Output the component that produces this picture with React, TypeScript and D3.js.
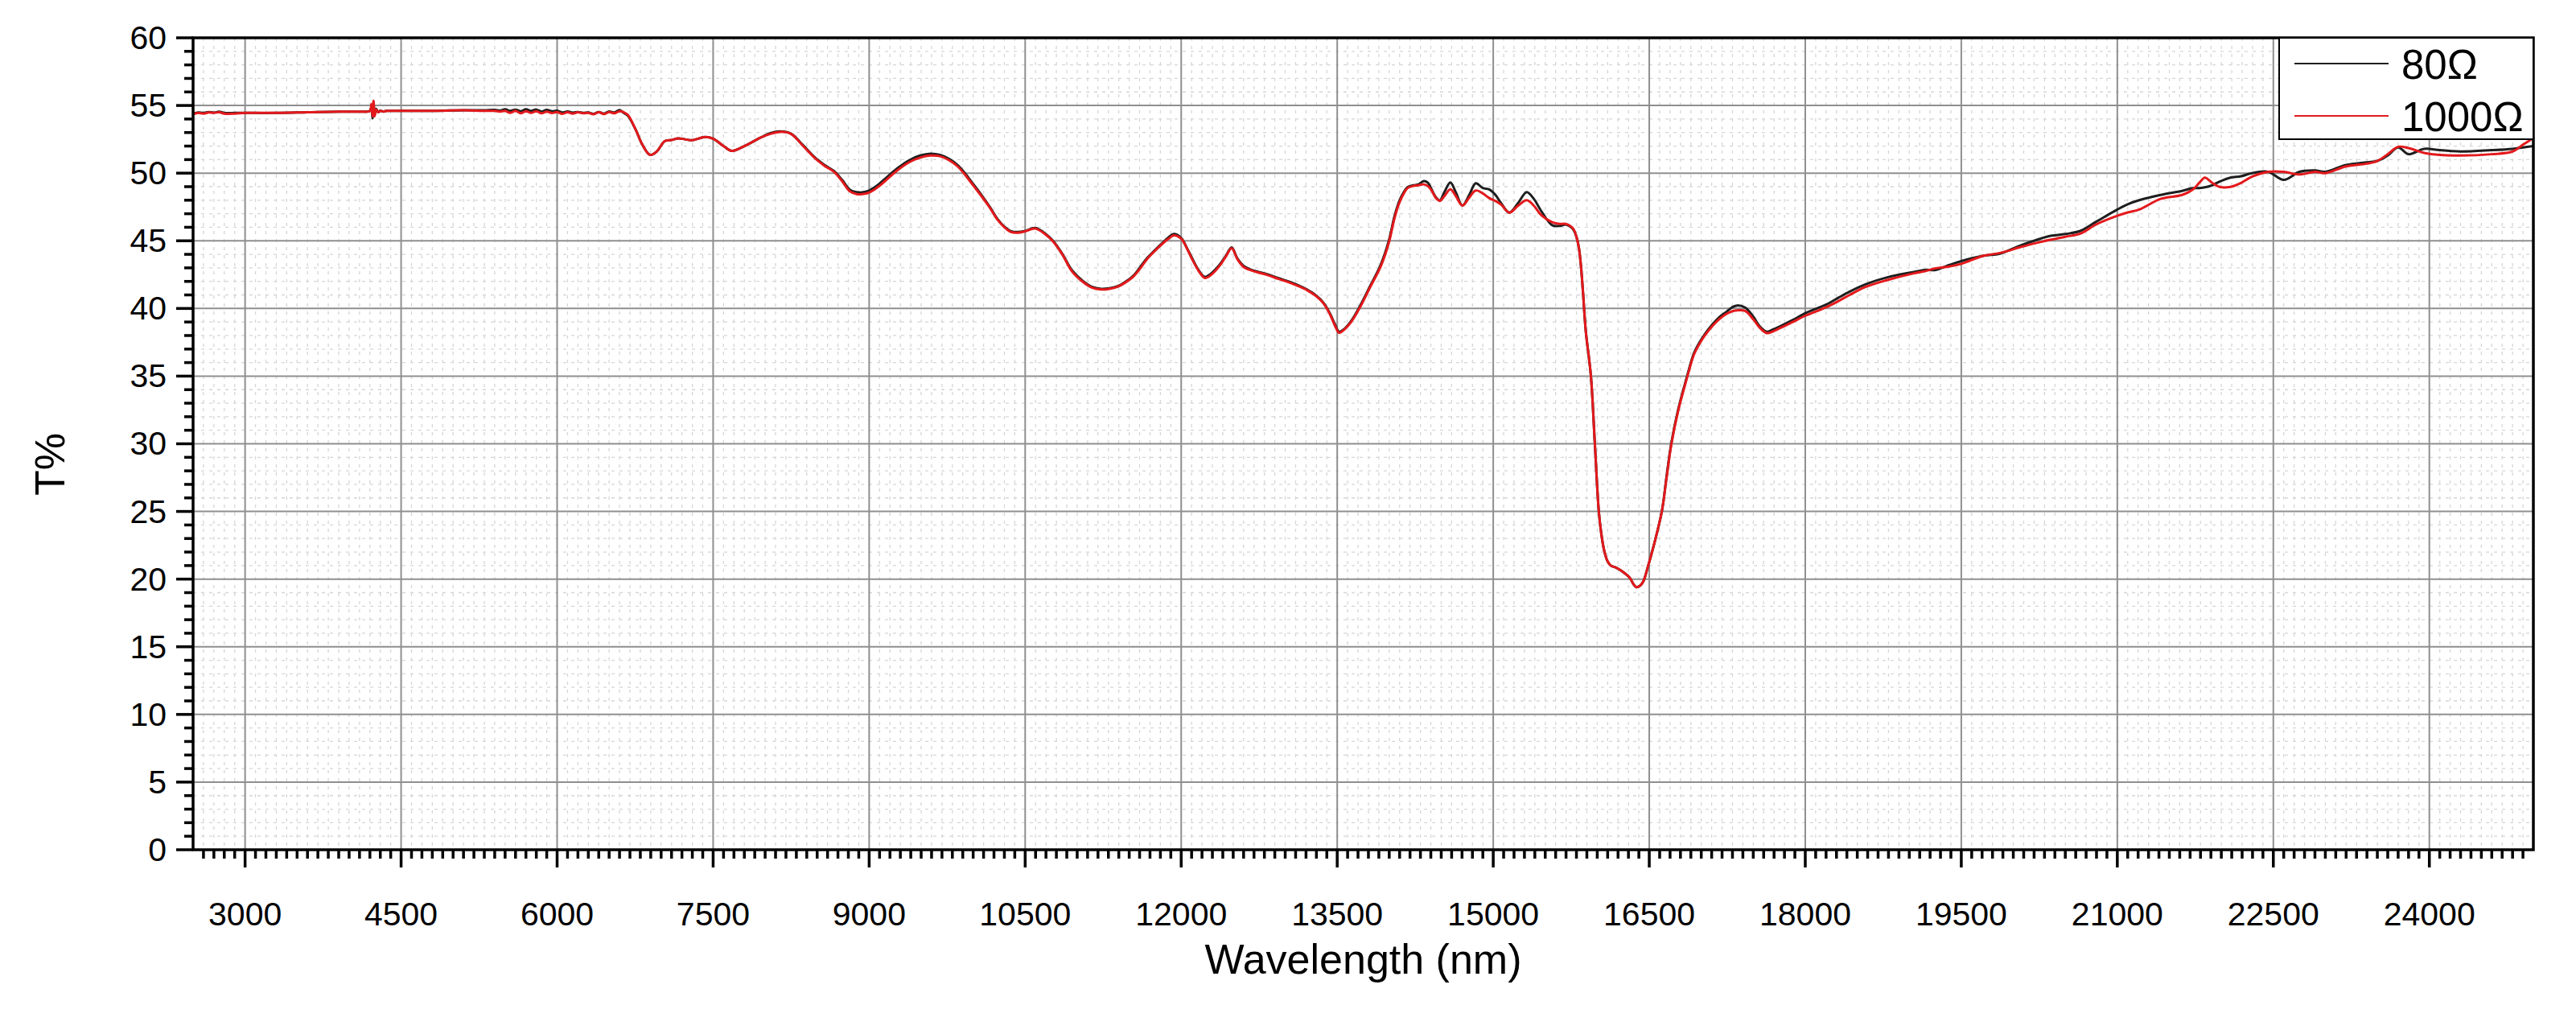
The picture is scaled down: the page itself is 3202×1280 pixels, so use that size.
import React, { useEffect } from "react";
import * as d3 from "d3";

// Wavelength (nm) sample positions shared by both series
const wavelengths = [
  2500, 2550, 2600, 2650, 2700, 2750, 2800, 2900, 3000, 3300,
  3600, 3900, 4100, 4200, 4215, 4225, 4235, 4245, 4260, 4280,
  4300, 4330, 4360, 4500, 4800, 5100, 5300, 5400, 5450, 5500,
  5550, 5600, 5650, 5700, 5750, 5800, 5850, 5900, 5950, 6000,
  6050, 6100, 6150, 6200, 6250, 6300, 6350, 6400, 6450, 6500,
  6550, 6600, 6640, 6680, 6750, 6820, 6894, 6958, 7036, 7100,
  7165, 7230, 7294, 7423, 7500, 7600, 7680, 7760, 7835, 7950,
  8050, 8145, 8248, 8360, 8480, 8570, 8661, 8740, 8816, 8880,
  8932, 9004, 9080, 9151, 9270, 9383, 9490, 9590, 9680, 9770,
  9850, 9925, 10000, 10080, 10160, 10235, 10300, 10364, 10430, 10493,
  10596, 10699, 10768, 10860, 10949, 11052, 11140, 11233, 11310, 11388,
  11460, 11543, 11610, 11672, 11740, 11801, 11870, 11930, 12000, 12060,
  12111, 12170, 12227, 12290, 12369, 12430, 12485, 12540, 12602, 12660,
  12731, 12837, 12937, 13030, 13118, 13210, 13299, 13370, 13428, 13480,
  13518, 13570, 13634, 13720, 13815, 13918, 13996, 14050, 14099, 14140,
  14177, 14230, 14280, 14332, 14370, 14409, 14450, 14487, 14530, 14588,
  14641, 14704, 14770, 14832, 14900, 14961, 15020, 15077, 15155, 15240,
  15322, 15390, 15464, 15567, 15640, 15696, 15740, 15773, 15800, 15825,
  15845, 15863, 15890, 15938, 15977, 16015, 16040, 16067, 16100, 16131,
  16180, 16234, 16312, 16350, 16376, 16410, 16441, 16490, 16544, 16621,
  16665, 16711, 16780, 16853, 16930, 16984, 17034, 17113, 17180, 17243,
  17300, 17345, 17422, 17500, 17560, 17628, 17690, 17757, 17880, 18002,
  18110, 18221, 18320, 18427, 18583, 18789, 19046, 19150, 19253, 19380,
  19500, 19716, 19871, 20077, 20200, 20335, 20500, 20644, 20799, 21000,
  21100, 21211, 21417, 21623, 21726, 21790, 21842, 21910, 21984, 22087,
  22190, 22293, 22450, 22600, 22750, 22900, 23000, 23200, 23400, 23500,
  23600, 23700, 23800, 23950, 24100, 24300, 24600, 24800, 24900, 25000,
];

// T% for the 80 Ω sample
const t80 = [
  54.4, 54.48, 54.45, 54.52, 54.47, 54.55, 54.45, 54.45, 54.45, 54.45,
  54.5, 54.55, 54.55, 54.6, 54.9, 54.05, 55.25, 54.3, 54.75, 54.5,
  54.62, 54.55, 54.6, 54.6, 54.6, 54.65, 54.65, 54.68, 54.62, 54.72,
  54.6, 54.7, 54.58, 54.72, 54.6, 54.7, 54.55, 54.68, 54.57, 54.62,
  54.48, 54.56, 54.47, 54.52, 54.46, 54.48, 54.38, 54.52, 54.4, 54.56,
  54.48, 54.66, 54.45, 54.25, 53.3, 52.1, 51.35, 51.6, 52.37, 52.45,
  52.57, 52.5, 52.43, 52.67, 52.55, 52.0, 51.64, 51.85, 52.13, 52.6,
  52.95, 53.08, 52.92, 52.1, 51.15, 50.6, 50.16, 49.5, 48.77, 48.6,
  48.58, 48.73, 49.1, 49.57, 50.35, 50.95, 51.3, 51.44, 51.35, 51.05,
  50.6, 49.96, 49.2, 48.38, 47.5, 46.6, 46.05, 45.71, 45.65, 45.71,
  45.95, 45.5, 45.0, 44.0, 42.83, 42.04, 41.6, 41.45, 41.5, 41.64,
  41.95, 42.44, 43.1, 43.72, 44.25, 44.71, 45.2, 45.5, 45.2, 44.4,
  43.62, 42.8, 42.34, 42.6, 43.23, 43.9, 44.51, 43.7, 43.13, 42.9,
  42.73, 42.5, 42.24, 42.0, 41.74, 41.4, 40.95, 40.4, 39.66, 38.8,
  38.28, 38.5, 39.07, 40.2, 41.64, 43.23, 45.0, 46.8, 47.98, 48.6,
  48.97, 49.1, 49.17, 49.41, 49.3, 48.77, 48.2, 47.98, 48.6, 49.31,
  48.57, 47.6, 48.4, 49.25, 48.9, 48.8, 48.4, 47.77, 47.08, 47.8,
  48.6, 48.1, 47.17, 46.15, 46.1, 46.2, 46.05, 45.8, 45.3, 44.4,
  43.0, 41.2, 38.3, 35.1, 30.0, 25.0, 23.3, 22.1, 21.3, 21.0,
  20.85, 20.6, 20.1, 19.6, 19.4, 19.5, 19.8, 21.0, 22.5, 25.0,
  27.5, 30.0, 32.6, 34.7, 36.7, 37.5, 38.1, 38.87, 39.4, 39.76,
  40.1, 40.22, 40.06, 39.4, 38.7, 38.28, 38.45, 38.68, 39.15, 39.66,
  40.0, 40.36, 40.8, 41.25, 41.8, 42.3, 42.7, 42.85, 42.85, 43.2,
  43.5, 43.9, 44.05, 44.68, 45.0, 45.33, 45.5, 45.73, 46.42, 47.31,
  47.7, 48.0, 48.39, 48.69, 48.89, 48.9, 48.95, 49.1, 49.38, 49.67,
  49.77, 50.0, 50.1, 49.5, 50.1, 50.2, 50.1, 50.6, 50.8, 50.9,
  51.3, 51.9, 51.4, 51.8, 51.7, 51.6, 51.7, 51.8, 51.9, 52.0,
];

// T% for the 1000 Ω sample
const t1000 = [
  54.35, 54.45, 54.4, 54.48, 54.45, 54.5, 54.4, 54.4, 54.45, 54.45,
  54.5, 54.55, 54.55, 54.6, 55.1, 54.2, 55.35, 54.2, 54.7, 54.5,
  54.6, 54.55, 54.6, 54.6, 54.6, 54.65, 54.6, 54.6, 54.55, 54.6,
  54.45, 54.6, 54.42, 54.58, 54.45, 54.58, 54.42, 54.55, 54.44, 54.52,
  54.38, 54.5, 54.4, 54.5, 54.42, 54.45, 54.35, 54.5, 54.36, 54.52,
  54.42, 54.58, 54.5, 54.3, 53.3, 52.1, 51.35, 51.6, 52.37, 52.45,
  52.57, 52.5, 52.43, 52.67, 52.55, 52.0, 51.64, 51.85, 52.13, 52.6,
  52.9, 53.05, 52.9, 52.05, 51.1, 50.55, 50.1, 49.4, 48.65, 48.45,
  48.45, 48.58, 48.95, 49.4, 50.2, 50.8, 51.15, 51.3, 51.25, 50.95,
  50.5, 49.85, 49.1, 48.3, 47.45, 46.55, 46.0, 45.65, 45.6, 45.68,
  45.9, 45.45, 44.95, 43.95, 42.75, 41.98, 41.55, 41.4, 41.45, 41.6,
  41.9, 42.38, 43.0, 43.65, 44.2, 44.65, 45.1, 45.4, 45.15, 44.35,
  43.55, 42.75, 42.25, 42.5, 43.15, 43.85, 44.45, 43.65, 43.05, 42.85,
  42.68, 42.45, 42.18, 41.95, 41.68, 41.35, 40.9, 40.35, 39.6, 38.7,
  38.2, 38.45, 39.0, 40.1, 41.55, 43.1, 44.85, 46.65, 47.85, 48.5,
  48.9, 49.05, 49.1, 49.17, 49.05, 48.7, 48.15, 47.95, 48.3, 48.8,
  48.3, 47.6, 48.2, 48.72, 48.5, 48.16, 47.95, 47.67, 47.08, 47.6,
  48.0, 47.6, 46.88, 46.38, 46.25, 46.25, 46.1, 45.85, 45.3, 44.4,
  43.0, 41.2, 38.3, 35.1, 30.0, 25.0, 23.3, 22.1, 21.3, 21.0,
  20.85, 20.6, 20.1, 19.6, 19.4, 19.5, 19.8, 21.0, 22.5, 25.0,
  27.4, 29.9, 32.5, 34.6, 36.6, 37.4, 38.0, 38.75, 39.25, 39.6,
  39.8, 39.86, 39.82, 39.2, 38.6, 38.18, 38.3, 38.55, 39.0, 39.47,
  39.8, 40.16, 40.55, 41.0, 41.6, 42.1, 42.6, 42.75, 42.97, 43.1,
  43.3, 43.9, 44.1, 44.55, 44.8, 45.04, 45.3, 45.53, 46.22, 46.85,
  47.1, 47.31, 48.1, 48.39, 48.79, 49.3, 49.67, 49.3, 48.98, 48.98,
  49.28, 49.73, 50.1, 50.1, 49.9, 50.1, 50.0, 50.5, 50.7, 50.9,
  51.4, 51.95, 51.85, 51.5, 51.35, 51.3, 51.4, 51.6, 52.1, 52.6,
];

const xTicks = [3000, 4500, 6000, 7500, 9000, 10500, 12000, 13500, 15000, 16500, 18000, 19500, 21000, 22500, 24000];
const yTicks = [0, 5, 10, 15, 20, 25, 30, 35, 40, 45, 50, 55, 60];
const seriesNames = ["80Ω", "1000Ω"];
const seriesColors = ["#1e1e1e", "#e3191c"];
const xTitle = "Wavelength (nm)";
const yTitle = "T%";

const W = 3202;
const H = 1280;
const PL = 240;
const PR = 3149;
const PT = 47;
const PB = 1056;
const FONT = "Arial, 'Liberation Sans', Helvetica, sans-serif";

export default function App() {
  useEffect(() => {
    document.body.style.margin = "0";
    document.body.style.overflow = "hidden";
  }, []);

  const x = d3.scaleLinear().domain([2500, 25000]).range([PL, PR]);
  const y = d3.scaleLinear().domain([0, 60]).range([PB, PT]);

  const minorX = d3.range(2600, 25000, 100).filter((v) => v % 1500 !== 0);
  const minorY = d3.range(1, 60, 1).filter((v) => v % 5 !== 0);

  const mk = (vals: number[]) =>
    d3
      .line<number>()
      .x((_, i) => x(wavelengths[i]))
      .y((d) => y(d))
      .curve(d3.curveCatmullRom.alpha(0.5))(vals) || "";

  const series = [t80, t1000];

  const legX = 2833;
  const legY = 47;
  const legW = PR - legX;
  const legH = 126;

  return (
    <svg
      width={W}
      height={H}
      viewBox={`0 0 ${W} ${H}`}
      style={{ position: "absolute", left: 0, top: 0, background: "#fff" }}
      fontFamily={FONT}
    >
      <rect x={0} y={0} width={W} height={H} fill="#fff" />
      <defs>
        <clipPath id="plotclip">
          <rect x={PL} y={PT} width={PR - PL} height={PB - PT} />
        </clipPath>
      </defs>
      {/* minor grid */}
      <g stroke="#d6d6d6" strokeWidth={1.3} strokeDasharray="4,6">
        {minorX.map((v) => (
          <line key={"mx" + v} x1={x(v)} x2={x(v)} y1={PT} y2={PB} />
        ))}
        {minorY.map((v) => (
          <line key={"my" + v} x1={PL} x2={PR} y1={y(v)} y2={y(v)} />
        ))}
      </g>
      {/* major grid */}
      <g stroke="#8f8f8f" strokeWidth={2}>
        {xTicks.map((v) => (
          <line key={"gx" + v} x1={x(v)} x2={x(v)} y1={PT} y2={PB} />
        ))}
        {yTicks.map((v) => (
          <line key={"gy" + v} x1={PL} x2={PR} y1={y(v)} y2={y(v)} />
        ))}
      </g>
      {/* curves */}
      <g clipPath="url(#plotclip)" fill="none" strokeWidth={3} strokeLinejoin="round">
        {series.map((s, i) => (
          <path key={"s" + i} d={mk(s)} stroke={seriesColors[i]} />
        ))}
      </g>
      {/* frame */}
      <rect x={PL} y={PT} width={PR - PL} height={PB - PT} fill="none" stroke="#000" strokeWidth={3.5} />
      {/* ticks */}
      <g stroke="#000" strokeWidth={3.5}>
        {yTicks.map((v) => (
          <line key={"yt" + v} x1={PL - 21} x2={PL} y1={y(v)} y2={y(v)} />
        ))}
        {minorY.map((v) => (
          <line key={"ymt" + v} x1={PL - 11} x2={PL} y1={y(v)} y2={y(v)} />
        ))}
        {xTicks.map((v) => (
          <line key={"xt" + v} x1={x(v)} x2={x(v)} y1={PB} y2={PB + 22} />
        ))}
        {minorX.map((v) => (
          <line key={"xmt" + v} x1={x(v)} x2={x(v)} y1={PB} y2={PB + 11} />
        ))}
      </g>
      {/* tick labels */}
      <g fontSize={41} fill="#000">
        {yTicks.map((v) => (
          <text key={"yl" + v} x={207} y={y(v)} dy="0.34em" textAnchor="end">
            {v}
          </text>
        ))}
        {xTicks.map((v) => (
          <text key={"xl" + v} x={x(v)} y={1150} textAnchor="middle">
            {v}
          </text>
        ))}
      </g>
      {/* axis titles */}
      <text x={(PL + PR) / 2} y={1210} fontSize={52} textAnchor="middle" fill="#000">
        {xTitle}
      </text>
      <text transform={`translate(80, 577) rotate(-90)`} fontSize={52} textAnchor="middle" fill="#000">
        {yTitle}
      </text>
      {/* legend */}
      <rect x={legX} y={legY} width={legW} height={legH} fill="#fff" stroke="#000" strokeWidth={2} />
      {seriesNames.map((n, i) => (
        <g key={"lg" + i}>
          <line
            x1={2852}
            x2={2969}
            y1={79 + i * 65}
            y2={79 + i * 65}
            stroke={seriesColors[i]}
            strokeWidth={2}
          />
          <text x={2985} y={98 + i * 65} fontSize={51} fill="#000">
            {n}
          </text>
        </g>
      ))}
    </svg>
  );
}
